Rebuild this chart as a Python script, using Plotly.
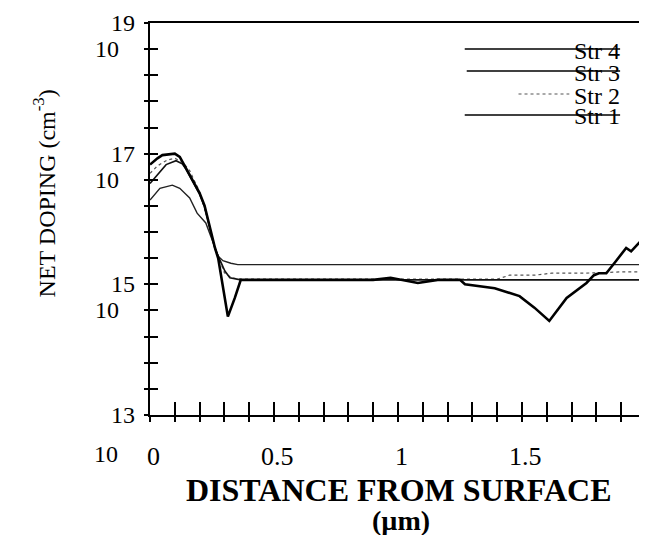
import plotly.graph_objects as go

# ---------------- data ----------------
# Str 4 : thick curve, dips near 0.31 um and again near 1.6 um
str4_x = [0, 0.03, 0.05, 0.10, 0.12, 0.145, 0.17, 0.20, 0.22, 0.235, 0.262, 0.275,
          0.294, 0.314, 0.342, 0.366, 0.50, 0.70, 0.90, 0.97, 1.00, 1.04, 1.08, 1.16,
          1.25, 1.27, 1.39, 1.49, 1.55, 1.61, 1.64, 1.68, 1.76, 1.79, 1.81, 1.84,
          1.88, 1.92, 1.94, 2.00]
str4_y = [6.8e16, 8.5e16, 9.5e16, 1.0e17, 8.9e16, 6.0e16, 4.0e16, 2.5e16, 1.6e16, 9.3e15,
          3.6e15, 2.5e15, 8.7e14, 3.2e14, 6.2e14, 1.17e15, 1.17e15, 1.17e15, 1.17e15,
          1.26e15, 1.20e15, 1.10e15, 1.05e15, 1.17e15, 1.17e15, 1.00e15, 8.7e14, 6.6e14,
          4.4e14, 2.75e14, 3.9e14, 6.2e14, 1.05e15, 1.38e15, 1.48e15, 1.48e15, 2.3e15,
          3.6e15, 3.2e15, 5.6e15]

# Str 3 : smooth to the lower plateau
str3_x = [0, 0.03, 0.065, 0.105, 0.13, 0.145, 0.17, 0.20, 0.22, 0.235, 0.262, 0.275,
          0.286, 0.302, 0.322, 0.366, 2.00]
str3_y = [3.5e16, 4.7e16, 6.8e16, 7.8e16, 7.0e16, 5.8e16, 3.9e16, 2.4e16, 1.55e16, 9.0e15,
          3.5e15, 2.7e15, 2.2e15, 1.6e15, 1.26e15, 1.17e15, 1.17e15]

# Str 2 : dotted
str2_x = [0, 0.03, 0.07, 0.10, 0.13, 0.16, 0.20, 0.235, 0.262, 0.28, 0.30, 0.33, 0.37,
          1.40, 1.45, 1.55, 1.62, 1.75, 1.90, 2.00]
str2_y = [5.0e16, 6.5e16, 8.0e16, 8.5e16, 7.5e16, 5.5e16, 2.6e16, 9.3e15, 3.6e15, 2.3e15,
          1.5e15, 1.25e15, 1.2e15, 1.2e15, 1.38e15, 1.38e15, 1.48e15, 1.48e15, 1.55e15, 1.55e15]

# Str 1 : lowest surface peak, upper plateau
str1_x = [0, 0.04, 0.09, 0.12, 0.16, 0.19, 0.225, 0.262, 0.275, 0.294, 0.326, 0.354, 2.00]
str1_y = [1.95e16, 2.95e16, 3.3e16, 2.95e16, 2.1e16, 1.23e16, 8.7e15, 3.6e15, 2.7e15,
          2.3e15, 2.1e15, 2.0e15, 2.0e15]

legend_names = ["Str 4", "Str 3", "Str 2", "Str 1"]

x_tick_vals = [0, 0.5, 1, 1.5, 2]
x_tick_text = ["0", "0.5", "1", "1.5", "2"]
x_minor = [i / 10 for i in range(21)]

y_label_exps = [19, 17, 15, 13]
y_minor_exps = [19 - 0.4 * k for k in range(16)]

# ---------------- layout constants ----------------
W, H = 647, 535
L, R, T, B = 142, 640, 15, 407
FONT = "Liberation Serif"


def px(xp):
    return (xp - L) / (R - L)


def py(yp):
    return (B - yp) / (B - T)


fig = go.Figure()

fig.add_trace(go.Scatter(x=str1_x, y=str1_y, mode="lines", name="Str 1",
                         line=dict(color="#222", width=1.4)))
fig.add_trace(go.Scatter(x=str2_x, y=str2_y, mode="lines", name="Str 2",
                         line=dict(color="#555", width=1.2, dash="dot")))
fig.add_trace(go.Scatter(x=str3_x, y=str3_y, mode="lines", name="Str 3",
                         line=dict(color="#111", width=1.6)))
fig.add_trace(go.Scatter(x=str4_x, y=str4_y, mode="lines", name="Str 4",
                         line=dict(color="#000", width=2.6)))
# empty trace to bring up the overlay axes (outer half of crossing ticks)
fig.add_trace(go.Scatter(x=[None], y=[None], xaxis="x2", yaxis="y2",
                         showlegend=False, hoverinfo="skip"))

y_minor_vals = [10 ** e for e in y_minor_exps]

fig.update_layout(
    width=W, height=H,
    margin=dict(l=L, r=W - R, t=T, b=H - B),
    paper_bgcolor="white", plot_bgcolor="white",
    showlegend=False,
    font=dict(family=FONT, color="black"),
    xaxis=dict(range=[0, 2], showgrid=False, zeroline=False,
               showline=True, linecolor="black", linewidth=2, mirror=True,
               ticks="inside", ticklen=13, tickwidth=1.5, tickcolor="black",
               tickvals=x_minor, showticklabels=False),
    yaxis=dict(type="log", range=[13, 19], showgrid=False, zeroline=False,
               showline=True, linecolor="black", linewidth=2, mirror=True,
               ticks="inside", ticklen=8, tickwidth=1.5, tickcolor="black",
               tickvals=y_minor_vals, showticklabels=False),
    xaxis2=dict(range=[0, 2], overlaying="x", anchor="y2", side="bottom",
                showgrid=False, zeroline=False, showline=False,
                ticks="outside", ticklen=6, tickwidth=1.5, tickcolor="black",
                tickvals=x_minor, showticklabels=False),
    yaxis2=dict(type="log", range=[13, 19], overlaying="y", anchor="x2", side="left",
                showgrid=False, zeroline=False, showline=False,
                ticks="outside", ticklen=5, tickwidth=1.5, tickcolor="black",
                tickvals=y_minor_vals, showticklabels=False),
)

ann = []
# y tick labels: exponent, with "10" one minor step below
for e in y_label_exps:
    ann.append(dict(x=px(129), y=e, xref="paper", yref="y", text=str(e),
                    showarrow=False, xanchor="right", yanchor="middle",
                    font=dict(size=24, family=FONT)))
    if e > 13:
        ann.append(dict(x=px(113), y=e - 0.4, xref="paper", yref="y", text="10",
                        showarrow=False, xanchor="right", yanchor="middle",
                        font=dict(size=24, family=FONT)))
ann.append(dict(x=px(112), y=py(446), xref="paper", yref="paper", text="10",
                showarrow=False, xanchor="right", yanchor="middle",
                font=dict(size=24, family=FONT)))

# x tick labels
for v, t in zip(x_tick_vals, x_tick_text):
    ann.append(dict(x=v, y=py(448), xref="x", yref="paper", text=t,
                    showarrow=False, xanchor="center", yanchor="middle",
                    xshift=3, font=dict(size=26, family=FONT)))

# axis titles
ann.append(dict(x=px(392), y=py(482), xref="paper", yref="paper",
                text="<b>DISTANCE FROM SURFACE</b>", showarrow=False,
                xanchor="center", yanchor="middle", font=dict(size=32, family=FONT)))
ann.append(dict(x=px(394), y=py(512), xref="paper", yref="paper",
                text="<b>(\u00b5m)</b>", showarrow=False,
                xanchor="center", yanchor="middle", font=dict(size=28, family=FONT)))
ann.append(dict(x=px(36), y=py(185), xref="paper", yref="paper",
                text="NET DOPING (cm<sup>-3</sup>)", showarrow=False, textangle=-90,
                xanchor="center", yanchor="middle", font=dict(size=24, family=FONT)))

# legend (text struck through by the sample line, as in the original)
leg_y = [41, 63, 86, 107]
leg_line = [(458, 614, "solid", 1.6), (460, 614, "solid", 1.4),
            (512, 563, "dot", 1.2), (458, 614, "solid", 1.4)]
shapes = []
for name, yy, (x0, x1, dash, w) in zip(legend_names, leg_y, leg_line):
    ann.append(dict(x=px(566), y=py(yy + 1.5), xref="paper", yref="paper", text=name,
                    showarrow=False, xanchor="left", yanchor="middle",
                    font=dict(size=24, family=FONT)))
    shapes.append(dict(type="line", xref="paper", yref="paper",
                       x0=px(x0), x1=px(x1), y0=py(yy), y1=py(yy),
                       line=dict(color="black" if dash == "solid" else "#555",
                                 width=w, dash=dash), layer="above"))

fig.update_layout(annotations=ann, shapes=shapes)

fig.write_html("out.html")
